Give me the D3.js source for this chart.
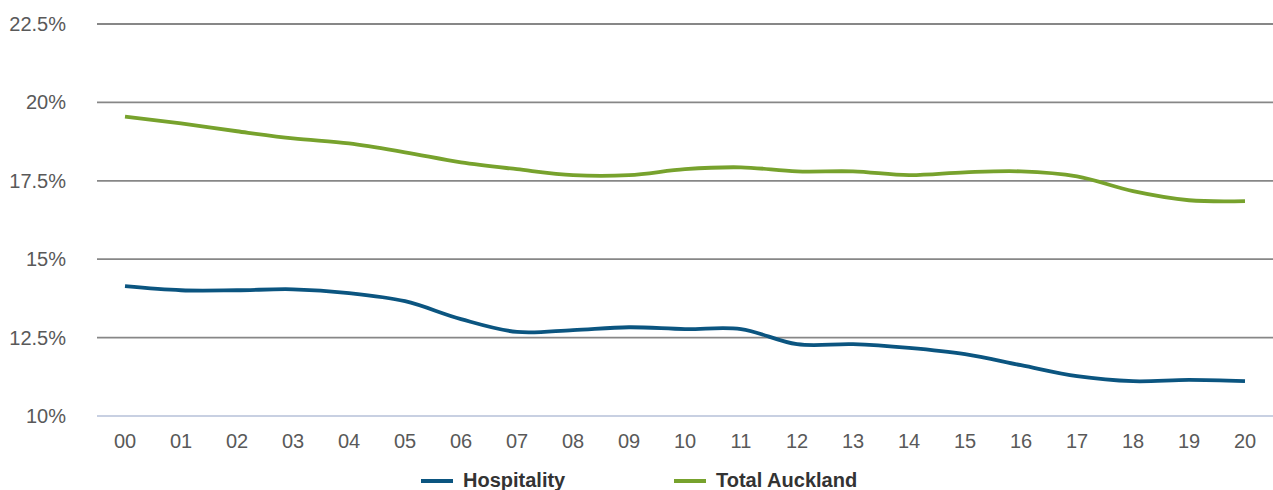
<!DOCTYPE html>
<html>
<head>
<meta charset="utf-8">
<script src="https://cdn.jsdelivr.net/npm/d3@7"></script>
<style>
  html, body { margin: 0; padding: 0; background: #fff; }
  svg { display: block; }
</style>
</head>
<body>
<svg id="chart" width="1273" height="490"></svg>
<script>
// Year labels (2000–2020)
const years = ["00","01","02","03","04","05","06","07","08","09","10","11","12","13","14","15","16","17","18","19","20"];

// Share of employment, percent
const hospitality = [14.14, 14.01, 14.01, 14.04, 13.92, 13.66, 13.09, 12.68, 12.74, 12.83, 12.77, 12.77, 12.29, 12.29, 12.17, 11.97, 11.62, 11.27, 11.11, 11.15, 11.11];
const totalAuckland = [19.55, 19.33, 19.08, 18.85, 18.69, 18.41, 18.09, 17.87, 17.68, 17.68, 17.87, 17.93, 17.80, 17.80, 17.68, 17.77, 17.80, 17.64, 17.17, 16.88, 16.85];

const yTicks = [10, 12.5, 15, 17.5, 20, 22.5];
const seriesNames = ["Hospitality", "Total Auckland"];
const seriesColors = ["#0b5580", "#77a22d"];

const svg = d3.select("#chart");
const plot = { left: 97, right: 1273, top: 24, bottom: 416 };

const x = d3.scalePoint().domain(years).range([plot.left, plot.right]).padding(0.5);
const y = d3.scaleLinear().domain([10, 22.5]).range([plot.bottom, plot.top]);

const font = "'Liberation Sans', Arial, sans-serif";

// Horizontal gridlines
svg.append("g")
  .selectAll("line")
  .data(yTicks.filter(d => d > 10))
  .join("line")
  .attr("x1", plot.left).attr("x2", plot.right)
  .attr("y1", d => y(d)).attr("y2", d => y(d))
  .attr("stroke", "#878787").attr("stroke-width", 1.8);

// Baseline
svg.append("line")
  .attr("x1", plot.left).attr("x2", plot.right)
  .attr("y1", y(10)).attr("y2", y(10))
  .attr("stroke", "#c8d0e2").attr("stroke-width", 2);

// Y axis labels
const fmt = d => (Number.isInteger(d) ? d : d.toFixed(1)) + "%";
svg.append("g")
  .selectAll("text")
  .data(yTicks)
  .join("text")
  .attr("x", 66)
  .attr("y", d => y(d))
  .attr("dy", "0.35em")
  .attr("text-anchor", "end")
  .attr("font-family", font)
  .attr("font-size", 20)
  .attr("fill", "#595959")
  .text(fmt);

// X axis labels
svg.append("g")
  .selectAll("text")
  .data(years)
  .join("text")
  .attr("x", d => x(d))
  .attr("y", 448)
  .attr("text-anchor", "middle")
  .attr("font-family", font)
  .attr("font-size", 20)
  .attr("fill", "#595959")
  .text(d => d);

// Lines
const line = d3.line()
  .x((d, i) => x(years[i]))
  .y(d => y(d))
  .curve(d3.curveCatmullRom.alpha(0.5));

[hospitality, totalAuckland].forEach((vals, k) => {
  svg.append("path")
    .datum(vals)
    .attr("d", line)
    .attr("fill", "none")
    .attr("stroke", seriesColors[k])
    .attr("stroke-width", 3.8);
});

// Legend
const legendX = [421, 674];
const legend = svg.append("g");
seriesNames.forEach((name, k) => {
  legend.append("line")
    .attr("x1", legendX[k]).attr("x2", legendX[k] + 32)
    .attr("y1", 481).attr("y2", 481)
    .attr("stroke", seriesColors[k]).attr("stroke-width", 4);
  legend.append("text")
    .attr("x", legendX[k] + 42)
    .attr("y", 487)
    .attr("font-family", font)
    .attr("font-size", 20)
    .attr("font-weight", "bold")
    .attr("fill", "#333")
    .text(name);
});
</script>
</body>
</html>
